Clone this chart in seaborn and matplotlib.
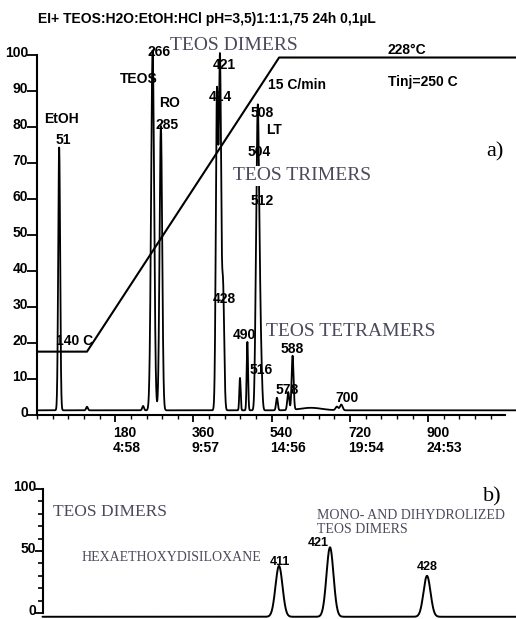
import numpy as np
import pandas as pd
import seaborn as sns
import matplotlib
matplotlib.use("Agg")
import matplotlib.pyplot as plt
from matplotlib import transforms

# ---------------- data ----------------
# panel a) total ion chromatogram, x = scan number, y = relative abundance (%)
peak_scan = [51, 115, 244, 266, 285, 414, 421, 428, 467, 484, 504, 508, 512, 516, 552, 578, 588, 630, 690, 700]
peak_height = [73, 1.0, 1.2, 100, 79, 87, 96, 34, 9, 19, 30, 70, 30, 10, 3.5, 5, 15, 0.7, 1.0, 1.6]
peak_sigma = [2.2, 2.0, 2.0, 3.5, 3.0, 2.6, 2.6, 2.6, 1.5, 1.6, 2.4, 2.4, 2.4, 2.4, 2.0, 2.2, 2.2, 25, 3, 3]
baseline_level = 1.3

# oven temperature programme, drawn on the same % scale
temp_scan = [0, 115, 557, 1102]
temp_level = [17.6, 17.6, 99.3, 99.3]

# peak annotations of panel a): text, scan, level
peak_label_text = ["EtOH", "51", "TEOS", "266", "RO", "285", "421", "414", "508", "LT", "504",
                   "512", "428", "490", "516", "588", "578", "700"]
peak_label_scan = [57, 60, 235, 281, 304, 299, 432, 421, 518, 545, 511, 518, 430, 478, 515, 587, 575, 713]
peak_label_level = [82.2, 76.4, 93.3, 100.8, 86.7, 80.6, 97.2, 88.3, 83.9, 79.2, 73.1, 59.4, 32.2,
                    22.2, 12.5, 18.3, 6.9, 4.7]

y_ticks = [0, 10, 20, 30, 40, 50, 60, 70, 80, 90, 100]
y_tick_labels = ["0", "10", "20", "30", "40", "50", "60", "70", "80", "90", "100"]
x_ticks = [180, 360, 540, 720, 900]
x_tick_labels = ["180\n4:58", "360\n9:57", "540\n14:56", "720\n19:54", "900\n24:53"]

# panel b) enlarged TEOS dimer region
b_peak_pos = [236.5, 287.5, 384.5]
b_peak_height = [38, 53, 30]
b_peak_label = ["411", "421", "428"]
b_label_pos = [237.5, 275.5, 384.5]
b_label_level = [41, 56.5, 37]
b_peak_sigma = 3.5
b_baseline = -3.0
b_y_ticks = [0, 50, 100]
b_y_tick_labels = ["0", "50", "100"]

# ---------------- build traces ----------------
scan_grid = np.arange(0, 1102.25, 0.25)
signal = np.full_like(scan_grid, baseline_level)
for c, h, s in zip(peak_scan, peak_height, peak_sigma):
    signal += h * np.exp(-0.5 * ((scan_grid - c) / s) ** 2)
df_a = pd.DataFrame({"scan": scan_grid, "abundance": signal})
df_t = pd.DataFrame({"scan": temp_scan, "level": temp_level})

b_grid = np.arange(0, 474.25, 0.25)
b_signal = np.full_like(b_grid, b_baseline)
for c, h in zip(b_peak_pos, b_peak_height):
    b_signal += (h - b_baseline) * np.exp(-0.5 * ((b_grid - c) / b_peak_sigma) ** 2)
df_b = pd.DataFrame({"pos": b_grid, "abundance": b_signal})

# ---------------- style ----------------
sns.set_theme(style="white")
plot_font = ["Liberation Sans", "DejaVu Sans"]
serif_font = ["Liberation Serif", "DejaVu Serif"]
plt.rcParams["font.family"] = plot_font
ink = "black"
grey_ink = "#4a4a5c"
fs = 10
fw = "bold"

W, H = 516, 619
fig = plt.figure(figsize=(W / 100, H / 100), dpi=100)

# panel a
ax1 = fig.add_axes([37 / W, (H - 415) / H, (W - 37) / W, 360 / H])
ax1.set_xlim(0, 1102)
ax1.set_ylim(0, 100)
sns.lineplot(data=df_a, x="scan", y="abundance", ax=ax1, color=ink, lw=1.3,
             estimator=None, clip_on=False)
sns.lineplot(data=df_t, x="scan", y="level", ax=ax1, color=ink, lw=1.5,
             estimator=None, clip_on=False)
ax1.set_xlabel("")
ax1.set_ylabel("")
for sp in ["top", "right"]:
    ax1.spines[sp].set_visible(False)
for sp in ["left", "bottom"]:
    ax1.spines[sp].set_color(ink)
    ax1.spines[sp].set_linewidth(1.5)
ax1.spines["left"].set_bounds(0, 100)
ax1.spines["bottom"].set_bounds(0, 1077)
ax1.set_yticks(y_ticks)
ax1.set_yticklabels([])
ax1.set_xticks(x_ticks)
ax1.set_xticklabels([])
ax1.set_xticks(np.arange(0, 1078, 36), minor=True)
ax1.tick_params(axis="y", which="major", left=True, direction="out", length=7, width=1.3, color=ink)
ax1.tick_params(axis="x", which="major", bottom=True, direction="out", length=5, width=1.3, color=ink)
ax1.tick_params(axis="x", which="minor", bottom=True, direction="out", length=3, width=1.0, color=ink)

ylab_tr = transforms.offset_copy(ax1.get_yaxis_transform(), fig=fig, x=-9, y=-2, units="dots")
for v, s in zip(y_ticks, y_tick_labels):
    ax1.text(0, v, s, transform=ylab_tr, ha="right", va="baseline", fontsize=fs,
             fontweight=fw, color=ink)
xlab_tr = transforms.offset_copy(ax1.get_xaxis_transform(), fig=fig, x=-2, y=-11, units="dots")
for v, s in zip(x_ticks, x_tick_labels):
    ax1.text(v, 0, s, transform=xlab_tr, ha="left", va="top", fontsize=fs,
             fontweight=fw, color=ink, linespacing=1.05)

for s, x, y in zip(peak_label_text, peak_label_scan, peak_label_level):
    ax1.text(x, y, s, ha="center", va="center", fontsize=fs, fontweight=fw, color=ink)

ax1.text(87, 20.6, "140 C", ha="center", va="center", fontsize=fs, fontweight=fw, color=ink)
ax1.text(531, 91.7, "15 C/min", ha="left", va="center", fontsize=fs, fontweight=fw, color=ink)
ax1.text(807, 101.5, "228°C", ha="left", va="center", fontsize=fs, fontweight=fw, color=ink,
         clip_on=False)
ax1.text(807, 92.5, "Tinj=250 C", ha="left", va="center", fontsize=fs, fontweight=fw, color=ink)

ax1.text(453, 102.5, "TEOS DIMERS", ha="center", va="center", fontsize=14, family=serif_font,
         color=grey_ink, clip_on=False)
ax1.text(610, 66.4, "TEOS TRIMERS", ha="center", va="center", fontsize=14, family=serif_font,
         color=grey_ink, bbox=dict(facecolor="white", edgecolor="none", pad=1))
ax1.text(722, 23.3, "TEOS TETRAMERS", ha="center", va="center", fontsize=14, family=serif_font,
         color=grey_ink)
ax1.text(1054, 73.1, "a)", ha="center", va="center", fontsize=16, family=serif_font, color=ink)

fig.text(38 / W, 1 - 19 / H, "EI+ TEOS:H2O:EtOH:HCl pH=3,5)1:1:1,75 24h 0,1µL", ha="left",
         va="center", fontsize=fs, fontweight=fw, color=ink)

# panel b
ax2 = fig.add_axes([42.5 / W, 0, (W - 42.5) / W, 130 / H])
ax2.set_xlim(0, 473.5)
ax2.set_ylim(-4.8, 100)
sns.lineplot(data=df_b, x="pos", y="abundance", ax=ax2, color=ink, lw=1.4,
             estimator=None, clip_on=False)
ax2.set_xlabel("")
ax2.set_ylabel("")
for sp in ["top", "right", "bottom"]:
    ax2.spines[sp].set_visible(False)
ax2.spines["left"].set_color(ink)
ax2.spines["left"].set_linewidth(1.5)
ax2.spines["left"].set_bounds(0, 100)
ax2.set_xticks([])
ax2.set_yticks(b_y_ticks)
ax2.set_yticklabels([])
ax2.set_yticks(np.arange(0, 101, 10), minor=True)
ax2.tick_params(axis="y", which="major", left=True, direction="out", length=6, width=1.3, color=ink)
ax2.tick_params(axis="y", which="minor", left=True, direction="out", length=3.5, width=1.2, color=ink)
ylab_tr2 = transforms.offset_copy(ax2.get_yaxis_transform(), fig=fig, x=-6, y=-2, units="dots")
for v, s in zip(b_y_ticks, b_y_tick_labels):
    ax2.text(0, v, s, transform=ylab_tr2, ha="right", va="baseline", fontsize=fs,
             fontweight=fw, color=ink)

for s, x, y in zip(b_peak_label, b_label_pos, b_label_level):
    ax2.text(x, y, s, ha="center", va="center", fontsize=9, fontweight=fw, color=ink)

ax2.text(449.5, 93.5, "b)", ha="center", va="center", fontsize=16, family=serif_font, color=ink)
ax2.text(10.5, 81.5, "TEOS DIMERS", ha="left", va="center", fontsize=12.5, family=serif_font,
         color=grey_ink)
ax2.text(274.5, 79, "MONO- AND DIHYDROLIZED", ha="left", va="center", fontsize=10,
         family=serif_font, color=grey_ink)
ax2.text(274.5, 67, "TEOS DIMERS", ha="left", va="center", fontsize=10, family=serif_font,
         color=grey_ink)
ax2.text(39.5, 45, "HEXAETHOXYDISILOXANE", ha="left", va="center", fontsize=10,
         family=serif_font, color=grey_ink)

fig.savefig("out.png", dpi=100, facecolor="white")
